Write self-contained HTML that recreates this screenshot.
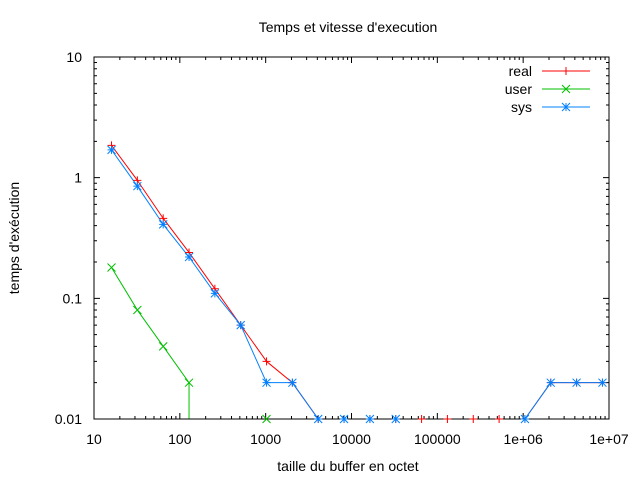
<!DOCTYPE html>
<html><head><meta charset="utf-8"><style>
body{margin:0;background:#fff}
svg text{font-family:"Liberation Sans","DejaVu Sans",sans-serif;font-size:14px;fill:#000}
</style></head><body>
<svg id="chart" width="640" height="480" xmlns="http://www.w3.org/2000/svg">
<text x="348" y="32" text-anchor="middle">Temps et vitesse d'execution</text>
<text x="348" y="471" text-anchor="middle">taille du buffer en octet</text>
<text x="0" y="0" text-anchor="middle" transform="translate(19,238) rotate(-90)">temps d'exécution</text>
<g id="series"></g>
<g id="axes"></g>
<g id="markers"></g>
<g id="legend"></g>
</svg>
<script>
const xValues=[16,32,64,128,256,512,1024,2048,4096,8192,16384,32768,65536,131072,262144,524288,1048576,2097152,4194304,8388608];
const realValues=[1.85,0.95,0.46,0.24,0.12,0.06,0.03,0.02,0.01,0.01,0.01,0.01,0.01,0.01,0.01,0.01,0.01,0.02,0.02,0.02];
const userValues=[0.18,0.08,0.04,0.02,0,0,0.01,0,0,0,0,0,0,0,0,0,0,0,0,0];
const sysValues=[1.7,0.85,0.41,0.22,0.11,0.06,0.02,0.02,0.01,0.01,0.01,0.01,0,0,0,0,0.01,0.02,0.02,0.02];
const xTickLabels=["10","100","1000","10000","100000","1e+06","1e+07"];
const yTickLabels=["0.01","0.1","1","10"];
const L=94,R=609,T=57,B=419;
const NS="http://www.w3.org/2000/svg";
function X(v){return L+(Math.log10(v)-1)/6*(R-L);}
function Y(v){return B-(Math.log10(v)+2)/3*(B-T);}
function el(tag,attrs,parent){const e=document.createElementNS(NS,tag);for(const k in attrs)e.setAttribute(k,attrs[k]);parent.appendChild(e);return e;}
const axes=document.getElementById('axes');
const frame=el('rect',{x:L,y:T,width:R-L,height:B-T,fill:'none',stroke:'#000','stroke-width':1},axes);


let p='';
for(let d=1;d<=7;d++){for(let m=1;m<=9;m++){const v=m*Math.pow(10,d);if(v>1e7)break;const x=X(v);const len=m===1?6:3;p+=`M${x},${B}v${-len}M${x},${T}v${len}`;}}
for(let d=-2;d<=1;d++){for(let m=1;m<=9;m++){const v=m*Math.pow(10,d);if(v>10)break;const y=Y(v);const len=m===1?6:3;p+=`M${L},${y}h${len}M${R},${y}h${-len}`;}}
const ticks=el('path',{d:p,stroke:'#000','stroke-width':1,fill:'none'},axes);


xTickLabels.forEach((t,i)=>{const tx=el('text',{x:X(Math.pow(10,i+1)),y:B+25,'text-anchor':'middle'},axes);tx.textContent=t;

});
yTickLabels.forEach((t,i)=>{const tx=el('text',{x:L-12,y:Y(Math.pow(10,i-2))+5,'text-anchor':'end'},axes);tx.textContent=t;

});
function marker(type,x,y,c,g){let d;const s=4;
if(type==='+')d=`M${x-s},${y}h${2*s}M${x},${y-s}v${2*s}`;
else if(type==='x')d=`M${x-s},${y-s}l${2*s},${2*s}M${x-s},${y+s}l${2*s},${-2*s}`;
else d=`M${x-s},${y}h${2*s}M${x},${y-s}v${2*s}M${x-s},${y-s}l${2*s},${2*s}M${x-s},${y+s}l${2*s},${-2*s}`;
const m=el('path',{d:d,stroke:c,'stroke-width':1,fill:'none'},g);

}
const sg=document.getElementById('series');
const mg=document.getElementById('markers');
function drawSeries(vals,c,type,name){const g=el('g',{},sg);


let d='';
for(let i=0;i<vals.length-1;i++){const a=vals[i],b=vals[i+1];
if(a>0&&b>0)d+=`M${X(xValues[i])},${Y(a)}L${X(xValues[i+1])},${Y(b)}`;
else if(a>0&&b<=0)d+=`M${X(xValues[i])},${Y(a)}L${X(xValues[i])},${B}`;}
const line=el('path',{d:d,stroke:c,'stroke-width':1,fill:'none'},g);


const pg=el('g',{},mg);


vals.forEach((v,i)=>{if(v>0)marker(type,X(xValues[i]),Y(v),c,pg);});}
drawSeries(realValues,'#ff0000','+','real');
drawSeries(userValues,'#00c000','x','user');
drawSeries(sysValues,'#0080ff','*','sys');
const lg=document.getElementById('legend');
[['real','#ff0000','+'],['user','#00c000','x'],['sys','#0080ff','*']].forEach((e,i)=>{
const y=71+i*18;const g=el('g',{},lg);


const t=el('text',{x:532,y:y+5,'text-anchor':'end'},g);t.textContent=e[0];
el('path',{d:`M542,${y}H590`,stroke:e[1],'stroke-width':1},g);
marker(e[2],566,y,e[1],g);});
</script>
</body></html>
